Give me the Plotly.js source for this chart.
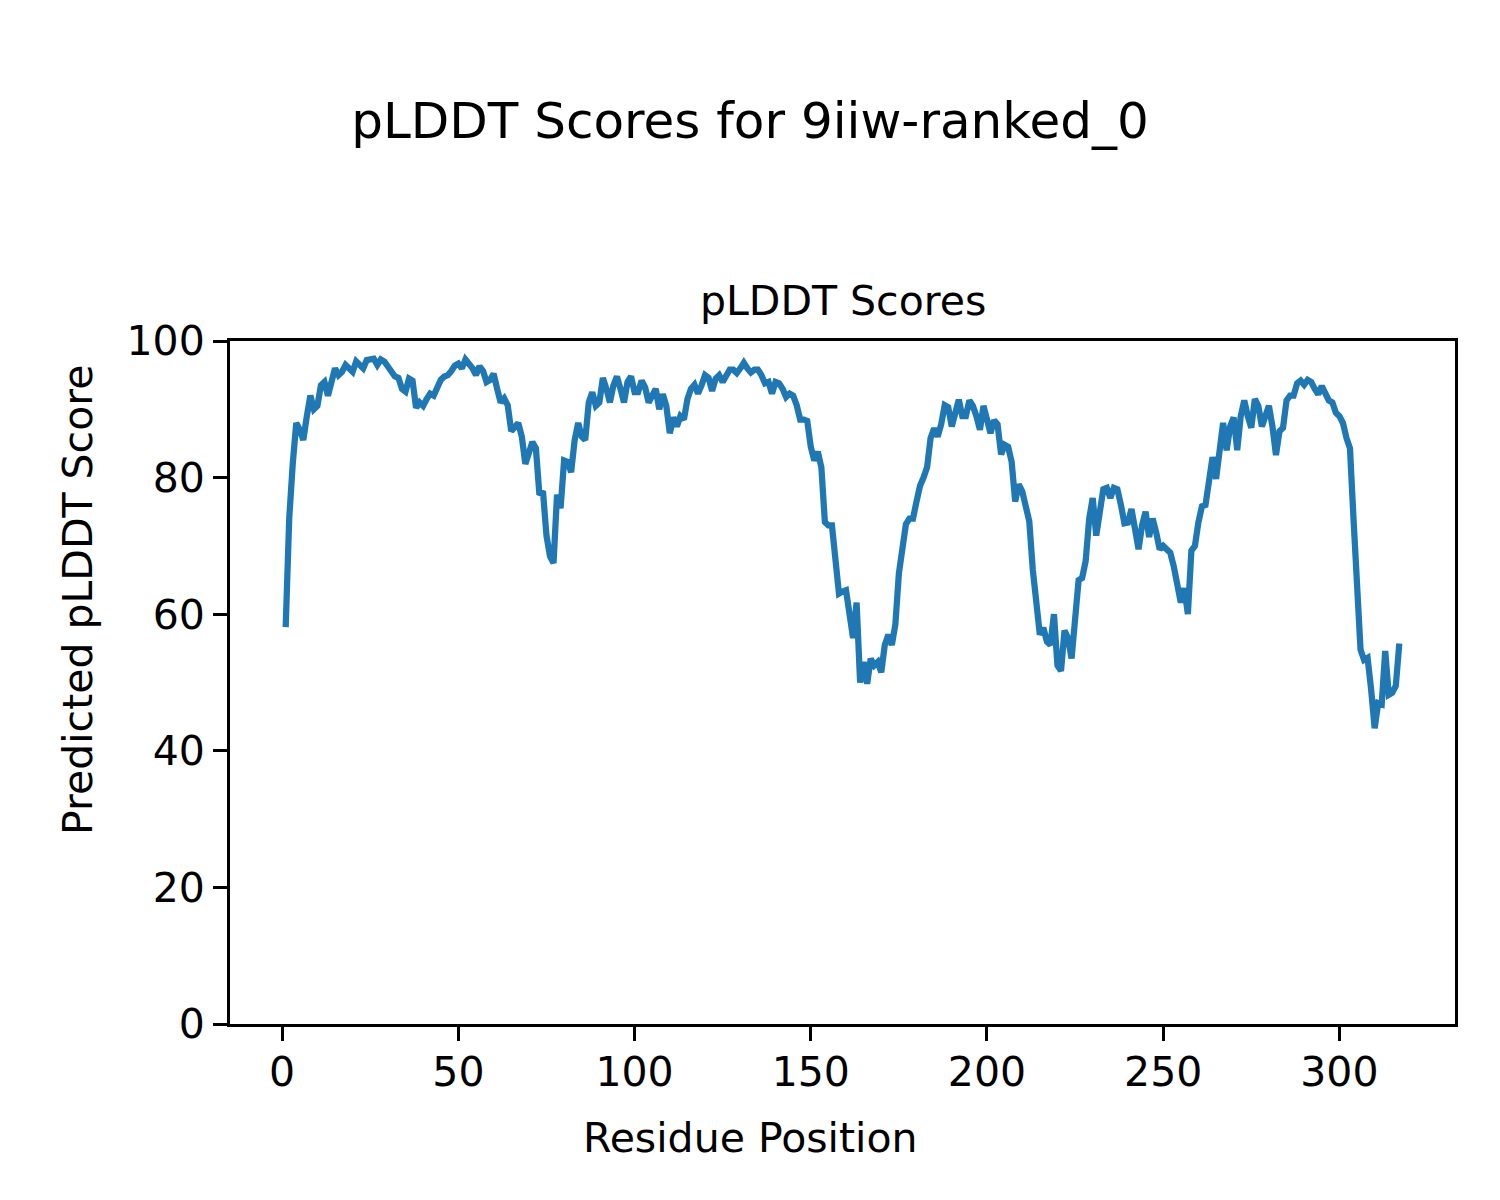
<!DOCTYPE html>
<html>
<head>
<meta charset="utf-8">
<script src="https://cdn.plot.ly/plotly-3.0.1.min.js"></script>
<style>html,body{margin:0;padding:0;background:#fff;}#chart{width:1500px;height:1200px;}</style>
</head>
<body>
<div id="chart"></div>
<script>
const plddt = [
58.1, 74, 82, 88, 87, 85.5, 89, 92, 90, 90.5,
93.5, 94, 92, 94, 96, 95, 95.5, 96.5, 96, 95.5,
97, 96.5, 96, 97.2, 97.3, 97.4, 96.5, 97.3, 97, 96.2,
95.5, 94.8, 94.6, 93, 92.6, 94.5, 94.2, 90.2, 91, 90.5,
91.5, 92.3, 92, 93.2, 94.3, 94.8, 95, 95.6, 96.4, 96.7,
96, 97.3, 96.8, 96, 95, 96.3, 95.6, 94, 94.3, 95.2,
93, 91, 91.6, 90.6, 86.8, 87.3, 88, 86, 82, 83.6,
85.2, 84.3, 77.5, 78, 71.5, 68.5, 67.5, 77.5, 75.5, 82.5,
82.3, 80.8, 85.5, 88, 86, 85.5, 91, 92.5, 90.5, 91,
94.6, 93, 91, 93.5, 94.8, 93, 91, 94, 94.8, 92.5,
92.5, 94.2, 93.2, 91, 92.3, 93, 90, 92.2, 90.5, 86.5,
88.8, 87.5, 89, 88.5, 91.5, 93, 93.6, 92.3, 93.5, 95,
94.6, 92.7, 94.5, 95, 94, 95, 95.8, 95.8, 95.3, 96,
96.8, 96, 95.4, 95.8, 95.8, 95, 93.8, 94, 92.3, 94,
93.8, 93, 91.8, 92.3, 92, 90.6, 88.5, 88.5, 88.3, 84.5,
82.5, 83.8, 81.5, 73.5, 73, 73, 68, 63, 63.3, 63.5,
60, 56.5, 61.7, 50, 53, 49.8, 53.5, 52.5, 53, 51.5,
55.5, 57, 55.5, 58.5, 66, 69, 73.2, 74, 74, 76.5,
78.8, 80, 81.5, 85.8, 87.2, 86, 87.8, 90.6, 90.3, 87.5,
89.5, 91.4, 89, 89, 91.3, 90.5, 89, 87, 90.5, 88,
86.5, 88.4, 87.8, 83.4, 84.8, 84.5, 82.3, 76.5, 79, 78,
75.3, 73.6, 66.5, 62, 57, 58, 56, 55.5, 60, 52.5,
51.7, 57.6, 56.5, 53.5, 60.5, 65, 65.3, 67.8, 74, 77,
71.5, 75.3, 78.3, 78.5, 77, 78.5, 78.3, 76, 73.3, 73.4,
75.4, 72.5, 69.5, 73, 75, 71.3, 74, 72, 69.5, 70,
69.5, 69, 67, 64, 61.7, 63.8, 60, 69.3, 70, 73.5,
75.8, 76, 80, 83, 79.8, 84, 88, 84, 87.5, 88.8,
84, 89, 91.3, 89, 87.3, 91.5, 90.5, 87.5, 89, 90.5,
87.5, 83.3, 86.8, 87.3, 91.3, 92, 92, 93.8, 94.2, 93.6,
94.3, 94, 93, 92.2, 93.4, 92.5, 91.3, 91, 89.5, 89,
88, 85.8, 84.3, 74, 62, 54.8, 53.3, 53.6, 49, 43.3,
47, 46.8, 54.6, 48.2, 48.5, 49.5, 55.7
];
const residues = plddt.map((_, i) => i + 1);
const xTicks = [0, 50, 100, 150, 200, 250, 300];
const yTicks = [0, 20, 40, 60, 80, 100];

const font = 'DejaVu Sans, sans-serif';
const fs = 41;
const trace = {
  x: residues, y: plddt, type: 'scatter', mode: 'lines',
  line: {color: '#1f77b4', width: 6.25}, hoverinfo: 'skip'
};
const axisCommon = {
  showgrid: false, zeroline: false, showline: true, mirror: true,
  linecolor: '#000', linewidth: 3, ticks: 'outside', ticklen: 14,
  tickwidth: 3, tickcolor: '#000',
  tickfont: {family: font, size: fs, color: '#000'}
};
const L = 230, R = 1455, T = 341, B = 1024;
const px = x => (x - L) / (R - L);
const py = y => (B - y) / (B - T);
const layout = {
  width: 1500, height: 1200,
  margin: {l: L, r: 1500 - R, t: T, b: 1200 - B},
  paper_bgcolor: '#fff', plot_bgcolor: '#fff',
  showlegend: false,
  title: {text: 'pLDDT Scores for 9iiw-ranked_0', font: {family: font, size: 50, color: '#000'},
          x: 0.5, xanchor: 'center', xref: 'container', y: 0.9, yanchor: 'middle'},
  xaxis: Object.assign({}, axisCommon, {
    range: [-14.8, 332.8], tickvals: xTicks, ticktext: xTicks.map(String), ticklabelstandoff: -4
  }),
  yaxis: Object.assign({}, axisCommon, {
    range: [0, 100], tickvals: yTicks, ticktext: yTicks.map(String)
  }),
  annotations: [
    {text: 'pLDDT Scores', xref: 'paper', yref: 'paper', x: 0.5, y: 1,
     xanchor: 'center', yanchor: 'bottom', yshift: 14, showarrow: false,
     font: {family: font, size: fs, color: '#000'}},
    {text: 'Residue Position', xref: 'paper', yref: 'paper', x: px(750), y: py(1138),
     xanchor: 'center', yanchor: 'middle', showarrow: false,
     font: {family: font, size: fs, color: '#000'}},
    {text: 'Predicted pLDDT Score', xref: 'paper', yref: 'paper', x: px(78), y: py(600),
     xanchor: 'center', yanchor: 'middle', textangle: -90, showarrow: false,
     font: {family: font, size: fs, color: '#000'}}
  ]
};
Plotly.newPlot('chart', [trace], layout, {displayModeBar: false, staticPlot: true});
</script>
</body>
</html>
